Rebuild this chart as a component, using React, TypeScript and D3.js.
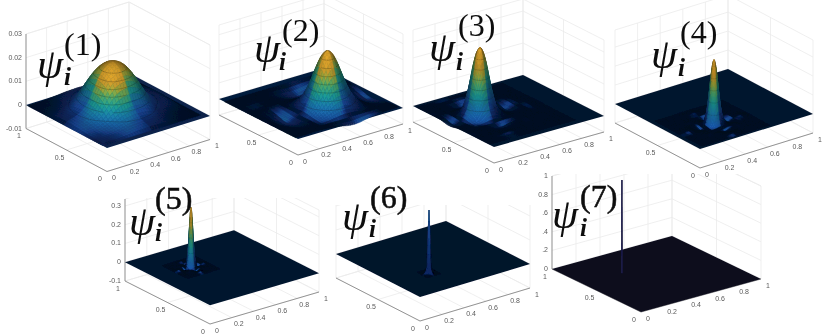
import React, { useMemo } from "react";
import * as d3 from "d3";

// tick labels
const xTicks = [0, 0.2, 0.4, 0.6, 0.8, 1];
const yTicks = [0, 0.5, 1];
const xTickLabels = ["0", "0.2", "0.4", "0.6", "0.8", "1"];

// cross sections of each mode: distance from peak -> relative height
const offsets1 = [0, 0.025, 0.05, 0.075, 0.1, 0.125, 0.15, 0.175, 0.2, 0.225, 0.25, 0.275, 0.3, 0.325, 0.35, 0.375, 0.4, 0.425, 0.45, 0.475];
const section1 = [1, 0.99, 0.97, 0.935, 0.885, 0.81, 0.72, 0.61, 0.5, 0.39, 0.3, 0.24, 0.19, 0.15, 0.12, 0.1, 0.085, 0.07, 0.05, 0];
const offsets2 = [0, 0.02, 0.04, 0.06, 0.08, 0.1, 0.12, 0.14, 0.16, 0.18, 0.2, 0.22, 0.24, 0.27, 0.3, 0.34, 0.38, 0.42, 0.46, 0.5, 0.56];
const section2 = [1, 0.98, 0.93, 0.85, 0.75, 0.63, 0.52, 0.41, 0.31, 0.23, 0.16, 0.1, 0.05, 0, -0.04, -0.07, -0.09, -0.08, -0.05, -0.02, 0];
const offsets3 = [0, 0.01, 0.02, 0.03, 0.04, 0.05, 0.06, 0.07, 0.08, 0.09, 0.1, 0.12, 0.14, 0.16, 0.18, 0.21, 0.24, 0.28, 0.32, 0.36, 0.4, 0.44, 0.5];
const section3 = [1, 0.98, 0.95, 0.89, 0.82, 0.72, 0.62, 0.52, 0.42, 0.33, 0.24, 0.13, 0.07, 0.03, -0.01, -0.03, -0.04, -0.03, -0.01, 0, 0.01, 0.005, 0];
const offsets4 = [0, 0.005, 0.01, 0.015, 0.02, 0.025, 0.03, 0.035, 0.04, 0.05, 0.06, 0.07, 0.08, 0.1, 0.12, 0.14, 0.17, 0.2, 0.23, 0.26, 0.3];
const section4 = [1, 0.98, 0.93, 0.87, 0.78, 0.68, 0.58, 0.48, 0.38, 0.23, 0.12, 0.06, 0.02, -0.02, -0.035, -0.025, -0.005, 0.01, 0.012, 0.005, 0];
const offsets5 = [0, 0.004, 0.008, 0.012, 0.016, 0.02, 0.025, 0.03, 0.035, 0.04, 0.05, 0.06, 0.07, 0.085, 0.1, 0.115, 0.13, 0.15];
const section5 = [1, 0.95, 0.83, 0.68, 0.5, 0.36, 0.22, 0.13, 0.07, 0.03, -0.02, -0.035, -0.025, -0.005, 0.01, 0.012, 0.005, 0];
const offsets6 = [0, 0.004, 0.008, 0.012, 0.016, 0.02, 0.025, 0.03, 0.04, 0.05, 0.06];
const section6 = [1, 0.82, 0.55, 0.3, 0.16, 0.09, 0.06, 0.04, 0.02, 0.005, 0];
const offsets7 = [0, 0.003];
const section7 = [1, 0];

const parula = d3
  .scaleLinear<string>()
  .domain([0, 0.06, 0.2, 0.4, 0.55, 0.7, 0.82, 0.92, 1])
  .range(["#04152f", "#0d2a66", "#1c4fa8", "#1a78a8", "#1c9a95", "#4aa76b", "#9aa83a", "#c79a2c", "#d9a02b"])
  .clamp(true);
const violet = d3.scaleLinear<string>().domain([0, 1]).range(["#0a0a1c", "#38388e"]).clamp(true);

type Vec = [number, number];
type Panel = {
  n: number;
  origin: Vec; // front floor corner at z = 0
  left: Vec;
  right: Vec;
  zDomain: [number, number];
  zRange: [number, number];
  zTicks: number[];
  zLabels?: string[];
  peak: number;
  centre: Vec;
  offsets: number[];
  section: number[];
  gain: number;
  glowPow: number;
  floor: string;
  ramp: (t: number) => string;
  contourStep: number;
  clip: [number, number, number, number];
  hideY1?: boolean;
  flat?: boolean;
  psi: Vec;
  sub: Vec;
  sup: Vec;
};

const panels: Panel[] = [
  { n: 1, origin: [107, 148], left: [26, 105], right: [210, 116], zDomain: [-0.01, 0.03], zRange: [23.5, -71], zTicks: [-0.01, 0, 0.01, 0.02, 0.03], zLabels: ["-0.01", "0", "0.01", "0.02", "0.03"], peak: 0.0204, centre: [0.475, 0.53], offsets: offsets1, section: section1, gain: 1, glowPow: 0.5, floor: "#08204a", ramp: parula, contourStep: 0.125, clip: [0, 0, 216, 185], psi: [37, 78], sub: [64, 85], sup: [64, 55] },
  { n: 2, origin: [298, 139], left: [219, 99], right: [403, 108], zDomain: [-0.01, 0.046], zRange: [16, -74], zTicks: [-0.01, 0, 0.01, 0.02, 0.03, 0.04], peak: 0.035, centre: [0.56, 0.37], offsets: offsets2, section: section2, gain: 1, glowPow: 1, floor: "#061a3c", ramp: parula, contourStep: 0.125, clip: [216, 0, 412, 170], hideY1: true, psi: [254, 62], sub: [279, 70], sup: [282, 41] },
  { n: 3, origin: [494, 147], left: [413, 106], right: [604, 116], zDomain: [-0.05, 0.2375], zRange: [16, -76], zTicks: [-0.05, 0, 0.05, 0.1, 0.15, 0.2], peak: 0.2125, centre: [0.287, 0.563], offsets: offsets3, section: section3, gain: 1, glowPow: 1, floor: "#04152f", ramp: parula, contourStep: 0.14, clip: [412, 0, 616, 175], hideY1: true, psi: [429, 61], sub: [456, 70], sup: [458, 36] },
  { n: 4, origin: [700, 149], left: [615, 104], right: [813, 114], zDomain: [-0.1, 0.39], zRange: [19, -74], zTicks: [-0.1, 0, 0.1, 0.2, 0.3], peak: 0.34, centre: [0.342, 0.29], offsets: offsets4, section: section4, gain: 1, glowPow: 1, floor: "#04152f", ramp: parula, contourStep: 0.18, clip: [612, 0, 831, 178], hideY1: true, psi: [651, 68], sub: [678, 76], sup: [680, 43] },
  { n: 5, origin: [210, 305], left: [125, 262], right: [319, 273], zDomain: [-0.1, 0.337], zRange: [19, -63], zTicks: [-0.1, 0, 0.1, 0.2, 0.3], zLabels: ["-0.1", "0", "0.1", "0.2", "0.3"], peak: 0.32, centre: [0.325, 0.64], offsets: offsets5, section: section5, gain: 1, glowPow: 1, floor: "#04152f", ramp: parula, contourStep: 0.25, clip: [100, 198, 332, 336], psi: [129, 235], sub: [155, 241], sup: [155, 209] },
  { n: 6, origin: [420, 297], left: [336, 254], right: [530, 264], zDomain: [-0.2, 0.7], zRange: [24, -84], zTicks: [-0.2, 0, 0.2, 0.4, 0.6], peak: 0.525, centre: [0.32, 0.312], offsets: offsets6, section: section6, gain: 0.26, glowPow: 1, floor: "#04122b", ramp: parula, contourStep: 2, clip: [332, 205, 542, 336], hideY1: true, psi: [342, 230], sub: [369, 237], sup: [370, 208] },
  { n: 7, origin: [641, 312], left: [552, 269], right: [761, 279], zDomain: [0, 1], zRange: [0, -93], zTicks: [0, 0.2, 0.4, 0.6, 0.8, 1], zLabels: ["0", ".2", ".4", ".6", "0.8", "1"], peak: 1, centre: [0.327, 0.655], offsets: offsets7, section: section7, gain: 1, glowPow: 1, floor: "#0a0a1c", ramp: violet, contourStep: 2, clip: [536, 174, 780, 336], flat: true, psi: [552, 228], sub: [580, 236], sup: [580, 207] },
];

const mathFont = "'Liberation Serif', 'DejaVu Serif', serif";
const tickFont = "'Liberation Sans', Arial, sans-serif";

function Surface({ p }: { p: Panel }) {
  const { facets, project } = useMemo(() => {
    // d3 scales take the box coordinates to screen offsets
    const ux = d3.scaleLinear().domain([0, 1]).range([0, p.right[0] - p.origin[0]]);
    const uy = d3.scaleLinear().domain([0, 1]).range([0, p.right[1] - p.origin[1]]);
    const vx = d3.scaleLinear().domain([0, 1]).range([0, p.left[0] - p.origin[0]]);
    const vy = d3.scaleLinear().domain([0, 1]).range([0, p.left[1] - p.origin[1]]);
    const zy = d3.scaleLinear().domain(p.zDomain).range(p.zRange);
    const project = (u: number, v: number, z: number): Vec => [
      p.origin[0] + ux(u) + vx(v),
      p.origin[1] + uy(u) + vy(v) + zy(z),
    ];

    // mirror the section round the peak and keep what falls inside the floor
    const mirrored = [
      ...p.offsets.slice(1).map((t, i) => ({ t: -t, a: p.section[i + 1] })).reverse(),
      ...p.offsets.map((t, i) => ({ t, a: p.section[i] })),
    ];
    const us = mirrored.map((d) => ({ w: p.centre[0] + d.t, a: d.a })).filter((d) => d.w >= 0 && d.w <= 1);
    const vs = mirrored.map((d) => ({ w: p.centre[1] + d.t, a: d.a })).filter((d) => d.w >= 0 && d.w <= 1);

    const out: { d: string; fill: string; lines: string }[] = [];
    const zPx = Math.abs(zy(1) - zy(0));
    // back corner first, so the front facets paint over it
    for (let i = us.length - 2; i >= 0; i--) {
      for (let j = vs.length - 2; j >= 0; j--) {
        const corners = [
          [us[i].w, vs[j].w, us[i].a * vs[j].a],
          [us[i + 1].w, vs[j].w, us[i + 1].a * vs[j].a],
          [us[i + 1].w, vs[j + 1].w, us[i + 1].a * vs[j + 1].a],
          [us[i].w, vs[j + 1].w, us[i].a * vs[j + 1].a],
        ];
        const pts = corners.map((c) => project(c[0], c[1], c[2] * p.peak));
        const du = us[i + 1].w - us[i].w;
        const dv = vs[j + 1].w - vs[j].w;
        const pk = p.peak * zPx;
        const dzu = (((corners[1][2] + corners[2][2]) - (corners[0][2] + corners[3][2])) / 2 / du) * pk;
        const dzv = (((corners[2][2] + corners[3][2]) - (corners[0][2] + corners[1][2])) / 2 / dv) * pk;
        const nx = -dzu / 130;
        const ny = -dzv / 130;
        const len = Math.hypot(nx, ny, 1);
        const dot = (-0.55 * nx - 0.55 * ny + 0.63) / len;
        const shade = p.flat ? 1 : Math.max(0.55, Math.min(1.1, 0.4 + 0.9 * (dot - 0.3)));
        // only slopes tipped at the viewer on both floor axes pick up the blue glow
        const front = Math.max(0, Math.min(1, Math.min(-nx, -ny) * 8));
        const zn = d3.mean(corners, (c) => c[2]) as number;
        // shallow dips still read a little lighter than the floor
        const height = zn >= 0 ? zn : -zn * 1.2;
        const col = d3.rgb(p.ramp((height + 0.22 * Math.pow(front, p.glowPow)) * p.gain));
        const fill = d3.rgb(col.r * shade, col.g * shade, col.b * shade).formatHex();

        // height lines crossing this facet
        let lines = "";
        if (p.contourStep < 1) {
          for (let level = p.contourStep; level < 1; level += p.contourStep) {
            const hits: Vec[] = [];
            for (let k = 0; k < 4; k++) {
              const a = corners[k][2];
              const b = corners[(k + 1) % 4][2];
              if ((a - level) * (b - level) < 0) {
                const s = (level - a) / (b - a);
                const pa = pts[k];
                const pb = pts[(k + 1) % 4];
                hits.push([pa[0] + s * (pb[0] - pa[0]), pa[1] + s * (pb[1] - pa[1])]);
              }
            }
            if (hits.length >= 2) lines += `M${hits[0][0].toFixed(1)},${hits[0][1].toFixed(1)}L${hits[1][0].toFixed(1)},${hits[1][1].toFixed(1)}`;
          }
        }
        out.push({ d: "M" + pts.map((q) => q[0].toFixed(1) + "," + q[1].toFixed(1)).join("L") + "Z", fill, lines });
      }
    }
    return { facets: out, project };
  }, [p]);

  const seg = (a: Vec, b: Vec) => `M${a[0]},${a[1]}L${b[0]},${b[1]}`;
  const [zMin, zMax] = p.zDomain;
  const grid = [
    // walls at v = 1 and u = 1
    ...p.zTicks.map((z) => seg(project(0, 1, z), project(1, 1, z))),
    ...p.zTicks.map((z) => seg(project(1, 1, z), project(1, 0, z))),
    ...xTicks.map((u) => seg(project(u, 1, zMin), project(u, 1, zMax))),
    ...yTicks.map((v) => seg(project(1, v, zMin), project(1, v, zMax))),
    // plane under the surface
    ...xTicks.map((u) => seg(project(u, 0, zMin), project(u, 1, zMin))),
    ...yTicks.map((v) => seg(project(0, v, zMin), project(1, v, zMin))),
    seg(project(0, 1, zMax), project(1, 1, zMax)),
    seg(project(1, 1, zMax), project(1, 0, zMax)),
  ].join("");
  const axes = [
    seg(project(0, 0, zMin), project(1, 0, zMin)),
    seg(project(0, 0, zMin), project(0, 1, zMin)),
    ...(p.zLabels ? [seg(project(0, 1, zMin), project(0, 1, zMax))] : []),
  ].join("");
  const floor = [project(0, 0, 0), project(1, 0, 0), project(1, 1, 0), project(0, 1, 0)];
  const clipId = `panel-${p.n}`;
  const tickStyle = { fontFamily: tickFont, fontSize: 7, fill: "#5a5a5a" };

  return (
    <g>
      <clipPath id={clipId}>
        <rect x={p.clip[0]} y={p.clip[1]} width={p.clip[2] - p.clip[0]} height={p.clip[3] - p.clip[1]} />
      </clipPath>
      <g clipPath={`url(#${clipId})`} filter="url(#soft)">
        <path d={grid} fill="none" stroke="#ebebeb" strokeWidth={0.8} />
        <path d={axes} fill="none" stroke="#6b6b6b" strokeWidth={0.7} />
        <polygon points={floor.map((q) => q.join(",")).join(" ")} fill={p.floor} />
        {facets.map((f, i) => (
          <g key={i}>
            <path d={f.d} fill={f.fill} stroke={f.fill} strokeWidth={0.4} />
            {f.lines && <path d={f.lines} fill="none" stroke="#000" strokeOpacity={0.45} strokeWidth={0.5} />}
          </g>
        ))}
      </g>
      <g filter="url(#softText)">
        {xTicks.map((u, i) => {
          const q = project(u, 0, zMin);
          return (
            <text key={u} x={q[0] + 7} y={q[1] + 8.5} textAnchor="middle" {...tickStyle}>
              {xTickLabels[i]}
            </text>
          );
        })}
        {yTicks
          .filter((v) => !(p.hideY1 && v === 1))
          .map((v) => {
            const q = project(0, v, zMin);
            return (
              <text key={v} x={q[0] - 7} y={q[1] + 9.5} textAnchor="middle" {...tickStyle}>
                {String(v)}
              </text>
            );
          })}
        {p.zLabels &&
          p.zTicks.map((z, i) => {
            const q = project(0, 1, z);
            return (
              <text key={z} x={q[0] - 4} y={q[1] + 2} textAnchor="end" {...tickStyle}>
                {(p.zLabels as string[])[i]}
              </text>
            );
          })}
        <text x={p.psi[0]} y={p.psi[1]} fontFamily={mathFont} fontStyle="italic" fontSize={42} fill="#0a0a0a">
          ψ
        </text>
        <text x={p.sub[0]} y={p.sub[1]} fontFamily={mathFont} fontStyle="italic" fontWeight="bold" fontSize={25} fill="#0a0a0a">
          i
        </text>
        <text
          x={p.sup[0]}
          y={p.sup[1]}
          fontFamily={mathFont}
          fontSize={32}
          fill="#0a0a0a"
          stroke={p.n >= 5 ? "#0a0a0a" : "none"}
          strokeWidth={0.5}
        >
          ({p.n})
        </text>
      </g>
    </g>
  );
}

export default function App() {
  return (
    <svg width={831} height={336} style={{ position: "absolute", left: 0, top: 0, background: "#fff" }}>
      <defs>
        <filter id="soft" x="-5%" y="-5%" width="110%" height="110%">
          <feGaussianBlur stdDeviation={0.55} />
        </filter>
        <filter id="softText" x="-5%" y="-5%" width="110%" height="110%">
          <feGaussianBlur stdDeviation={0.35} />
        </filter>
      </defs>
      {panels.map((p) => (
        <Surface key={p.n} p={p} />
      ))}
    </svg>
  );
}
